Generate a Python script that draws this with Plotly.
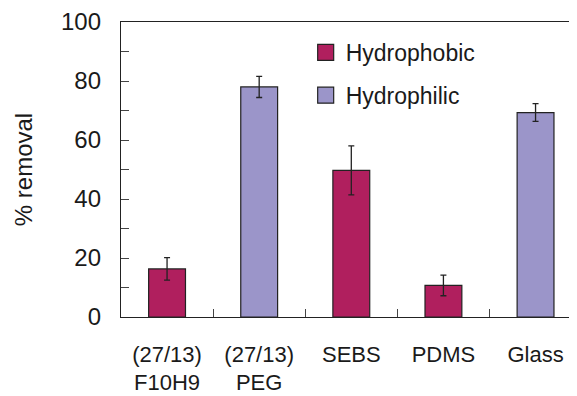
import plotly.graph_objects as go

categories = ["(27/13)<br>F10H9", "(27/13)<br>PEG", "SEBS", "PDMS", "Glass"]
surface_type = ["Hydrophobic", "Hydrophilic", "Hydrophobic", "Hydrophobic", "Hydrophilic"]
removal = [16.3, 78.0, 49.7, 10.7, 69.3]
removal_err = [3.8, 3.6, 8.3, 3.5, 3.0]

colors = {"Hydrophobic": "#B01F5E", "Hydrophilic": "#9B95C9"}
FONT = "Liberation Sans, Arial, sans-serif"

fig = go.Figure()
for kind in ["Hydrophobic", "Hydrophilic"]:
    xs = [c for c, k in zip(categories, surface_type) if k == kind]
    ys = [v for v, k in zip(removal, surface_type) if k == kind]
    es = [e for e, k in zip(removal_err, surface_type) if k == kind]
    fig.add_trace(go.Bar(
        x=xs, y=ys, width=0.4, name=kind, showlegend=False,
        marker=dict(color=colors[kind], line=dict(color="#222222", width=1.2)),
        error_y=dict(type="data", array=es, visible=True, color="#222222",
                     thickness=1.3, width=3),
    ))
# legend entries
for kind in ["Hydrophobic", "Hydrophilic"]:
    fig.add_trace(go.Scatter(
        x=[None], y=[None], mode="markers", name=kind, legendgroup=kind,
        marker=dict(symbol="square", size=20, color=colors[kind],
                    line=dict(color="#222222", width=1.2)),
    ))

# the page body adds an 8px offset, so the figure is drawn 8px smaller
fig.update_layout(
    width=569, height=388,
    margin=dict(l=113, r=0, t=14, b=79),
    plot_bgcolor="white", paper_bgcolor="white",
    barmode="overlay",
    font=dict(family=FONT, size=23, color="#1a1a1a"),
    showlegend=True,
    legend=dict(x=0.405, y=0.97, xanchor="left", yanchor="top",
                bgcolor="rgba(0,0,0,0)", tracegroupgap=10,
                font=dict(family=FONT, size=23, color="#1a1a1a"),
                itemsizing="trace"),
    xaxis=dict(
        type="category", categoryorder="array", categoryarray=categories,
        range=[-0.5, 4.45], showline=True, linecolor="#222222", linewidth=1.3,
        mirror=True, ticks="inside", ticklen=8, tickcolor="#444444",
        tickson="boundaries", showgrid=False, zeroline=False,
        automargin=False, ticklabelstandoff=17,
        tickfont=dict(family=FONT, size=22),
    ),
    yaxis=dict(
        range=[0, 100], tickvals=[0, 20, 40, 60, 80, 100],
        showline=True, linecolor="#222222", linewidth=1.3,
        ticks="inside", ticklen=8, tickcolor="#444444",
        minor=dict(tickvals=[10, 30, 50, 70, 90], ticks="inside", ticklen=8,
                   tickcolor="#444444"),
        showgrid=False, zeroline=False, automargin=False,
        ticklabelstandoff=14,
        title=dict(text="% removal", standoff=21, font=dict(family=FONT, size=24)),
        tickfont=dict(family=FONT, size=24),
    ),
)

fig.write_html("out.html")
